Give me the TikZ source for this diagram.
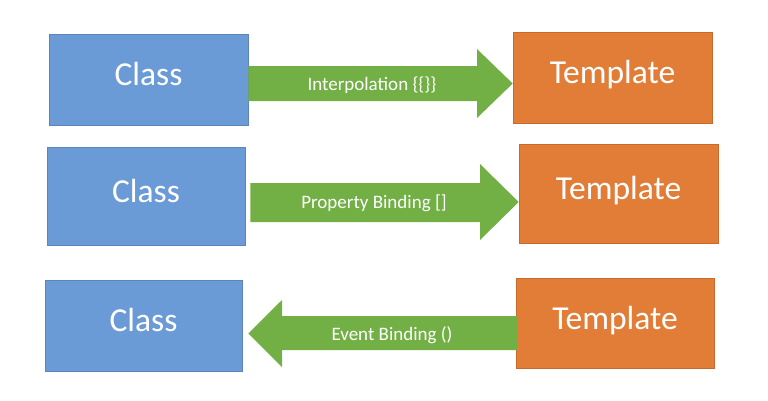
\documentclass[tikz,border=0pt]{standalone}
\usepackage{fontspec}
\setmainfont{Carlito}
\definecolor{boxblue}{HTML}{6A9BD7}
\definecolor{boxblueedge}{HTML}{5A86BC}
\definecolor{boxorange}{HTML}{E27D38}
\definecolor{boxorangeedge}{HTML}{C96A2C}
\definecolor{arrowgreen}{HTML}{72B046}
\tikzset{
  box/.style={draw, line width=0.6pt, inner sep=0pt, text=white,
    text height=18pt, text depth=5.6pt,
    font=\fontsize{33.5}{33.5}\selectfont},
  classbox/.style={box, fill=boxblue, draw=boxblueedge},
  tmplbox/.style={box, fill=boxorange, draw=boxorangeedge},
  blockarrow/.style={fill=arrowgreen},
  arrowlabel/.style={text=white, inner sep=0pt, font=\fontsize{19}{19}\selectfont}
}
\begin{document}
\begin{tikzpicture}[x=1pt,y=-1pt]
\useasboundingbox (0,0) rectangle (768,400);
% row 1
\node[classbox, minimum width=199pt, minimum height=91pt] (c1) at (148.5,79.5) {Class};
\node[tmplbox, minimum width=199pt, minimum height=91pt] (t1) at (612.5,77.5) {Template};
\fill[blockarrow] (c1.east |- 0,66) -- (477,66) -- (477,49) -- (t1.west |- 0,83.5)
  -- (477,118) -- (477,101) -- (c1.east |- 0,101) -- cycle;
\node[arrowlabel] (l1) at (372,85) {Interpolation \{\{\}\}};
% row 2
\node[classbox, minimum width=198pt, minimum height=98pt] (c2) at (146,196) {Class};
\node[tmplbox, minimum width=199pt, minimum height=99pt] (t2) at (618.5,193.5) {Template};
\fill[blockarrow] ([xshift=5pt]c2.east |- 0,183) -- (480,183) -- (480,164) -- (t2.west |- 0,202)
  -- (480,240) -- (480,222) -- ([xshift=5pt]c2.east |- 0,222) -- cycle;
\node[arrowlabel] (l2) at (374,203) {Property Binding []};
% row 3
\node[classbox, minimum width=197pt, minimum height=91pt] (c3) at (143.5,325.5) {Class};
\node[tmplbox, minimum width=198pt, minimum height=90pt] (t3) at (615,323) {Template};
\fill[blockarrow] ([xshift=2pt]t3.west |- 0,316) -- (282,316) -- (282,300) -- ([xshift=6pt]c3.east |- 0,333.5)
  -- (282,367) -- (282,350) -- ([xshift=2pt]t3.west |- 0,350) -- cycle;
\node[arrowlabel] (l3) at (392,335) {Event Binding ()};
\end{tikzpicture}
\end{document}
